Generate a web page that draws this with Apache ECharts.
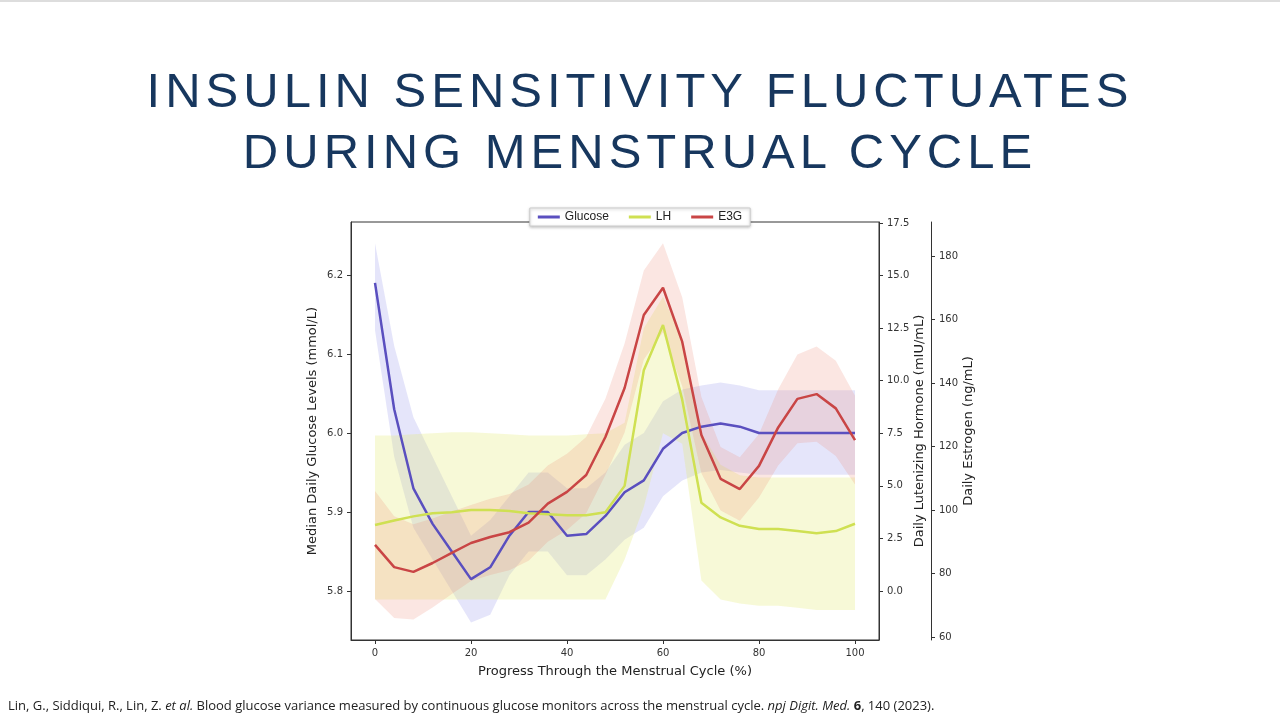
<!DOCTYPE html>
<html><head><meta charset="utf-8">
<script src="https://cdn.jsdelivr.net/npm/echarts@6/dist/echarts.min.js"></script>
<style>
body{margin:0;width:1280px;height:720px;background:#fff;overflow:hidden;font-family:"Liberation Sans",Arial,sans-serif;position:relative}
#topline{position:absolute;left:0;top:0;width:1280px;height:2px;background:#ddd}
#title{position:absolute;left:0;top:60px;width:1280px;text-align:center;color:#17375e;font-size:49px;letter-spacing:5px;line-height:61px;font-family:"Liberation Sans",Arial,sans-serif}
#chart{position:absolute;left:0;top:0;width:1280px;height:720px}
#cite{position:absolute;left:8px;top:696px;font-size:13px;color:#222;font-family:"Open Sans",sans-serif}
</style></head><body>
<div id="topline"></div>
<div id="chart"></div>
<div id="title">INSULIN SENSITIVITY FLUCTUATES<br>DURING MENSTRUAL CYCLE</div>
<div id="cite">Lin, G., Siddiqui, R., Lin, Z. <i>et al.</i> Blood glucose variance measured by continuous glucose monitors across the menstrual cycle. <i>npj Digit. Med.</i> <b>6</b>, 140 (2023).</div>
<script>
const progress=[0,4,8,12,16,20,24,28,32,36,40,44,48,52,56,60,64,68,72,76,80,84,88,92,96,100];
const glucose=[6.19,6.03,5.93,5.885,5.85,5.815,5.83,5.87,5.9,5.9,5.87,5.872,5.895,5.925,5.94,5.98,6.0,6.008,6.012,6.008,6.0,6.0,6.0,6.0,6.0,6.0];
const glucoseLow=[6.13,5.97,5.88,5.84,5.80,5.76,5.77,5.82,5.85,5.85,5.82,5.82,5.84,5.865,5.88,5.92,5.94,5.95,5.953,5.95,5.947,5.947,5.947,5.947,5.947,5.947];
const glucoseHigh=[6.24,6.11,6.02,5.97,5.92,5.87,5.89,5.92,5.95,5.95,5.93,5.93,5.95,5.985,6.0,6.04,6.055,6.06,6.064,6.06,6.054,6.054,6.054,6.054,6.054,6.054];
const lh=[3.14,3.35,3.55,3.7,3.75,3.85,3.85,3.8,3.7,3.65,3.6,3.6,3.75,5.0,10.5,12.65,9.1,4.2,3.5,3.1,2.95,2.95,2.85,2.75,2.85,3.2];
const lhLow=[-0.4,-0.4,-0.4,-0.4,-0.4,-0.4,-0.4,-0.4,-0.4,-0.4,-0.4,-0.4,-0.4,1.5,4.0,7.5,7.0,0.5,-0.4,-0.6,-0.7,-0.7,-0.8,-0.9,-0.9,-0.9];
const lhHigh=[7.4,7.4,7.45,7.5,7.55,7.55,7.5,7.45,7.4,7.4,7.4,7.45,7.5,8.0,12.5,14.0,12.0,7.5,6.0,5.5,5.4,5.4,5.4,5.4,5.4,5.4];
const e3g=[89,82,80.5,83.3,86.5,89.6,91.5,93,96,102,105.7,111,123,138.4,161.4,170,153,123.6,109.8,106.6,113.9,126,135,136.5,132,122];
const e3gBand=[17,16,15,14,13,12,12,12,12,12,12,12,12,14,14,14,14,12,10,10,10,12,14,15,15,14];
const xTicks=[0,20,40,60,80,100];
const glucoseTicks=[5.8,5.9,6.0,6.1,6.2];
const lhTicks=[0,2.5,5,7.5,10,12.5,15,17.5];
const e3gTicks=[60,80,100,120,140,160,180];

const pair=(xs,ys)=>xs.map((x,i)=>[x,ys[i]]);
function band(lo,hi,yi,color){
  return {type:'custom',yAxisIndex:yi,silent:true,clip:true,
    data:progress.map((x,i)=>[x,lo[i],hi[i]]),
    renderItem:(params,api)=>{
      if(params.dataIndex!==0) return null;
      const pts=[];
      for(let i=0;i<progress.length;i++) pts.push(api.coord([progress[i],hi[i]]));
      for(let i=progress.length-1;i>=0;i--) pts.push(api.coord([progress[i],lo[i]]));
      return {type:'polygon',shape:{points:pts},style:{fill:color}};
    }};
}
const F='"DejaVu Sans",sans-serif';
const ax={axisLine:{show:true,onZero:false,lineStyle:{color:'#333'}},axisTick:{show:true,lineStyle:{color:'#333'},length:4},splitLine:{show:false},axisLabel:{color:'#333',fontSize:10,fontFamily:F}};
const nts={fontSize:13,color:'#222',fontFamily:F};
const chart=echarts.init(document.getElementById('chart'));
chart.setOption({
  animation:false,
  grid:{left:351,right:401,top:222,bottom:80,show:true,borderColor:'#333',borderWidth:1},
  legend:{top:208,left:'center',data:['Glucose','LH','E3G'],itemWidth:22,itemHeight:3,icon:'rect',itemGap:20,
    backgroundColor:'#fff',borderColor:'#ccc',borderWidth:1,padding:[3,8],textStyle:{fontSize:12,color:'#222'},
    shadowColor:'rgba(0,0,0,0.25)',shadowBlur:3,shadowOffsetY:1},
  xAxis:{type:'value',min:-5,max:105,...ax,axisLabel:{...ax.axisLabel,customValues:xTicks},axisTick:{...ax.axisTick,customValues:xTicks},
    name:'Progress Through the Menstrual Cycle (%)',nameLocation:'middle',nameGap:25,nameTextStyle:nts},
  yAxis:[
    {type:'value',position:'left',min:5.738,max:6.267,...ax,axisLabel:{...ax.axisLabel,customValues:glucoseTicks,formatter:v=>v.toFixed(1)},axisTick:{...ax.axisTick,customValues:glucoseTicks},
     name:'Median Daily Glucose Levels (mmol/L)',nameLocation:'middle',nameGap:32,nameTextStyle:nts},
    {type:'value',position:'right',min:-2.33,max:17.55,...ax,axisLabel:{...ax.axisLabel,customValues:lhTicks,formatter:v=>v.toFixed(1)},axisTick:{...ax.axisTick,customValues:lhTicks},
     name:'Daily Lutenizing Hormone (mIU/mL)',nameLocation:'middle',nameGap:30,nameTextStyle:nts},
    {type:'value',position:'right',offset:52,min:59.05,max:190.7,...ax,axisLabel:{...ax.axisLabel,customValues:e3gTicks},axisTick:{...ax.axisTick,customValues:e3gTicks},
     name:'Daily Estrogen (ng/mL)',nameLocation:'middle',nameGap:28,nameTextStyle:nts}
  ],
  series:[
    band(glucoseLow,glucoseHigh,0,'rgba(110,110,230,0.18)'),
    band(lhLow,lhHigh,1,'rgba(225,235,110,0.28)'),
    band(e3g.map((v,i)=>v-e3gBand[i]),e3g.map((v,i)=>v+e3gBand[i]),2,'rgba(235,130,110,0.2)'),
    {type:'line',name:'Glucose',yAxisIndex:0,data:pair(progress,glucose),symbol:'none',lineStyle:{color:'#5a4fbf',width:2.5},itemStyle:{color:'#5a4fbf'}},
    {type:'line',name:'LH',yAxisIndex:1,data:pair(progress,lh),symbol:'none',lineStyle:{color:'#cfe052',width:2.5},itemStyle:{color:'#cfe052'}},
    {type:'line',name:'E3G',yAxisIndex:2,data:pair(progress,e3g),symbol:'none',lineStyle:{color:'#c94545',width:2.5},itemStyle:{color:'#c94545'}}
  ]
});
</script></body></html>
